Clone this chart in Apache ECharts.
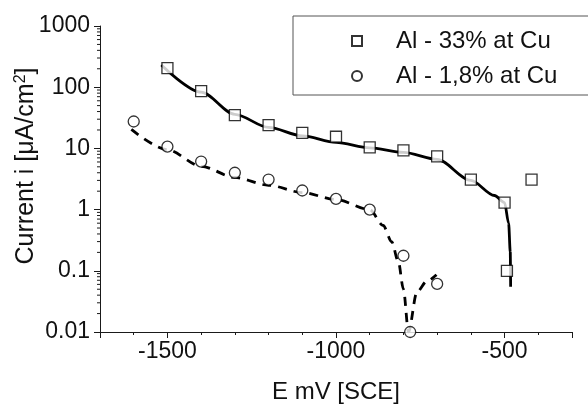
<!DOCTYPE html>
<html>
<head>
<meta charset="utf-8">
<script src="https://cdn.jsdelivr.net/npm/echarts@6/dist/echarts.min.js"></script>
<style>
html,body{margin:0;padding:0;background:#fff;}
#c{width:588px;height:406px;}
</style>
</head>
<body>
<div id="c"></div>
<script>
// ---- data ----
const X_MIN = -1700, X_MAX = -300;
const Y_MIN = 0.01, Y_MAX = 1000;

const sq33X = [-1500, -1400, -1300, -1200, -1100, -1000, -900, -800, -700, -600, -500, -493, -420];
const sq33Y = [205, 86, 35, 24, 18, 15.5, 10.4, 9.3, 7.4, 3.1, 1.3, 0.1, 3.1];

const ci18X = [-1600, -1500, -1400, -1300, -1200, -1100, -1000, -900, -800, -780, -700];
const ci18Y = [27.5, 10.7, 6.1, 4.0, 3.1, 2.05, 1.5, 1.0, 0.176, 0.01, 0.061];

const fit33X = [-1518, -1400, -1300, -1200, -1100, -1000, -900, -800, -700, -600, -530, -500, -488, -483, -482];
const fit33Y = [230, 83, 36, 22, 16, 12.5, 10.2, 8.6, 6.6, 3.0, 1.7, 1.3, 0.6, 0.2, 0.055];

const fit18X = [-1607, -1500, -1400, -1300, -1200, -1100, -1000, -900, -860, -835, -815, -800, -785, -760, -730, -702];
const fit18Y = [20.4, 9.5, 5.1, 3.35, 2.5, 1.9, 1.46, 1.0, 0.55, 0.3, 0.14, 0.05, 0.01, 0.045, 0.068, 0.086];

const seriesNames = ['Al - 33% at Cu', 'Al - 1,8% at Cu'];
const yTickLabels = ['0.01', '0.1', '1', '10', '100', '1000'];

// minor tick values for the log axis (2..9 per decade)
const yMinor = [];
for (let k = -2; k <= 2; k++) {
  for (let m = 2; m <= 9; m++) yMinor.push(m * Math.pow(10, k));
}

const zip = (xs, ys) => xs.map((x, i) => [x, ys[i]]);

const FONT = 'Liberation Sans, Arial, sans-serif';
const AX = '#1a1a1a';

const chart = echarts.init(document.getElementById('c'), null, {renderer: 'canvas'});
chart.setOption({
  animation: false,
  backgroundColor: '#fff',
  textStyle: {fontFamily: FONT},
  grid: {left: 100, right: 16, top: 26, bottom: 74, containLabel: false, outerBoundsMode: 'none'},
  legend: {
    data: seriesNames,
    orient: 'vertical',
    left: 293, top: 16,
    padding: [13, 200, 7, 58],
    itemGap: 11,
    itemWidth: 10, itemHeight: 10,
    borderColor: '#555', borderWidth: 1,
    backgroundColor: '#fff',
    textStyle: {fontFamily: FONT, fontSize: 24, color: '#111', padding: [0, 0, 0, 29]},
    selectedMode: false
  },
  graphic: [{
    type: 'text', x: 26, y: 166, rotation: Math.PI / 2, silent: true,
    style: {
      text: 'Current i [μA/cm{sup|2}]', fontFamily: FONT, fontSize: 25, fill: '#111',
      align: 'center', verticalAlign: 'middle',
      rich: {sup: {fontSize: 16, verticalAlign: 'top', padding: [0, 0, 10, 0], fontFamily: FONT, fill: '#111'}}
    }
  }],
  xAxis: {
    type: 'value', min: X_MIN, max: X_MAX, splitNumber: 3,
    name: 'E mV [SCE]', nameLocation: 'middle', nameGap: 48,
    nameTextStyle: {fontFamily: FONT, fontSize: 24, color: '#111'},
    axisLine: {onZero: false, lineStyle: {color: AX, width: 1}},
    axisTick: {show: true, inside: false, length: 6, lineStyle: {color: AX}},
    minorTick: {show: true, splitNumber: 5, length: 3, lineStyle: {color: AX}},
    axisLabel: {fontFamily: FONT, fontSize: 23, color: '#111', margin: 8, showMinLabel: false, showMaxLabel: false,
      formatter: v => String(v)},
    splitLine: {show: false}
  },
  yAxis: {
    type: 'log', logBase: 10, min: Y_MIN, max: Y_MAX,
    axisLine: {show: true, lineStyle: {color: AX, width: 1}},
    axisTick: {show: true, inside: false, length: 6, lineStyle: {color: AX}},
    axisLabel: {fontFamily: FONT, fontSize: 23, color: '#111', margin: 10,
      formatter: v => yTickLabels.find(t => Math.abs(parseFloat(t) - v) / v < 1e-6) || ''},
    splitLine: {show: false}
  },
  series: [
    {
      name: 'fit33', type: 'line', data: zip(fit33X, fit33Y), smooth: 0.3, smoothMonotone: 'x',
      symbol: 'none', lineStyle: {color: '#000', width: 2.8}, z: 2
    },
    {
      name: 'fit18', type: 'line', data: zip(fit18X, fit18Y), smooth: 0.3, smoothMonotone: 'x',
      symbol: 'none', lineStyle: {color: '#000', width: 2.8, type: [9, 7]}, z: 2
    },
    {
      name: seriesNames[0], type: 'scatter', data: zip(sq33X, sq33Y),
      symbol: 'rect', symbolSize: 11,
      itemStyle: {color: '#fff', borderColor: '#000', borderWidth: 1.3}, z: 3
    },
    {
      name: seriesNames[1], type: 'scatter', data: zip(ci18X, ci18Y),
      symbol: 'circle', symbolSize: 11,
      itemStyle: {color: '#fff', borderColor: '#000', borderWidth: 1.3}, z: 3
    },
    {
      name: 'minorY', type: 'custom', clip: false, silent: true,
      data: yMinor.map(v => [X_MIN, v]),
      renderItem: (params, api) => {
        const p = api.coord([api.value(0), api.value(1)]);
        return {type: 'line', shape: {x1: p[0] - 3, y1: p[1], x2: p[0], y2: p[1]},
          style: {stroke: AX, lineWidth: 1}};
      }
    }
  ]
});
</script>
</body>
</html>
